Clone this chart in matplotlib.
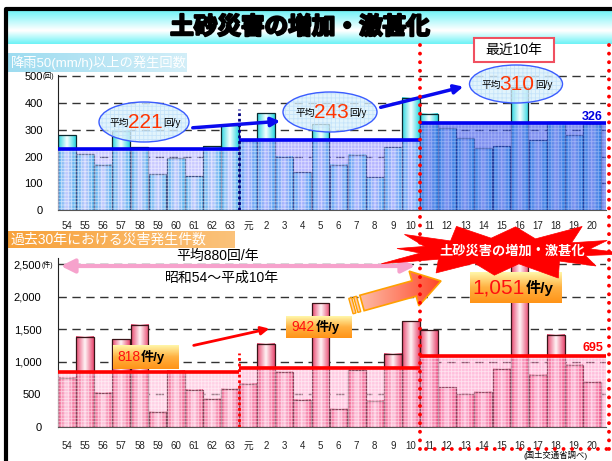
import numpy as np
import matplotlib
matplotlib.use('Agg')
import matplotlib.pyplot as plt
from matplotlib import patches as mpatches
from matplotlib.colors import LinearSegmentedColormap
import matplotlib.patheffects as pe

plt.rcParams['font.family'] = ['Liberation Sans', 'Noto Sans CJK JP']
plt.rcParams['hatch.linewidth'] = 0.6

# --- data ---
years = ['54', '55', '56', '57', '58', '59', '60', '61', '62', '63',
         '元', '2', '3', '4', '5', '6', '7', '8', '9', '10',
         '11', '12', '13', '14', '15', '16', '17', '18', '19', '20']
rain = [280, 208, 170, 297, 235, 134, 194, 126, 239, 318,
        258, 362, 200, 141, 321, 170, 207, 122, 235, 419,
        360, 306, 269, 231, 239, 460, 261, 329, 280, 321]
disasters = [754, 1385, 528, 1349, 1574, 231, 862, 574, 436, 590,
             667, 1277, 846, 420, 1903, 282, 882, 405, 1128, 1626,
             1487, 610, 503, 538, 897, 2540, 805, 1421, 959, 692]
rain_levels = [228, 260, 326]
rain_avg_labels = ['221', '243', '310']
dis_levels = [841, 908, 1092]
dis_avg_labels = ['818', '942', '1,051']
periods = [(-0.5, 9.5), (9.5, 19.5), (19.5, 29.8)]

W, H = 612, 461
fig = plt.figure(figsize=(W / 100, H / 100), dpi=100)


def px_axes(x0, y0, x1, y1, z):
    return fig.add_axes([x0 / W, 1 - y1 / H, (x1 - x0) / W, (y1 - y0) / H], zorder=z)


def grad(ax, box, arr, cols, z, clip=None):
    x0, y0, x1, y1 = box
    cm = LinearSegmentedColormap.from_list('g', cols)
    im = ax.imshow(arr, extent=(x0, x1, y1, y0), aspect='auto', cmap=cm,
                   vmin=0, vmax=1, zorder=z, interpolation='bilinear')
    if clip is not None:
        im.set_clip_path(clip)
    return im


bg = px_axes(0, 0, W, H, 0)
ov = px_axes(0, 0, W, H, 10)
for a in (bg, ov):
    a.patch.set_alpha(0)
    a.axis('off')

# title band and frame
vgrad = np.concatenate([np.linspace(1, 0, 30), np.linspace(0, 1, 20)])[:, None]
grad(bg, (7, 10, 612, 44), vgrad, ['#ffffff', '#6ef2f6'], 1)
bg.plot([6, 6, 612], [470, 9, 9], color='black', lw=3, zorder=2)
bg.text(300, 27, '土砂災害の増加・激甚化', fontsize=17, fontweight='bold',
        ha='center', va='center', family=['Noto Sans CJK JP'],
        path_effects=[pe.withStroke(linewidth=1.6, foreground='black')], zorder=3)

hgrad = np.linspace(0, 1, 50)[None, :]
grad(bg, (8, 53, 187, 72), hgrad, ['#9edcf0', '#d2eef8'], 1)
bg.text(11, 63, '降雨50(mm/h)以上の発生回数', color='white', fontsize=9.5,
        va='center', zorder=3)
grad(bg, (8, 231, 235, 248), hgrad, ['#f7a23c', '#fbc27a'], 1)
bg.text(11, 239.5, '過去30年における災害発生件数', color='white', fontsize=10,
        va='center', zorder=3)

x = np.arange(len(years))
xr = 58 + 30.3 * 18.1
ax1 = px_axes(58, 75, xr, 210, 2)
ax2 = px_axes(58, 258, xr, 427, 2)

hbar = np.abs(np.linspace(-1, 1, 64))[None, :]
cyan = ['#f6ffff', '#2cd6e0']
pink = ['#fff4f6', '#e84870']

for ax, vals, cols, ec, levels, lcol, fcs, hcs, grid in [
        (ax1, rain, cyan, '#0b2a30', rain_levels, '#0000f0',
         [(0.5, 0.5, 1.0, 0.42), (0.42, 0.42, 1.0, 0.5), (0.2, 0.3, 0.9, 0.62)],
         [(1, 1, 1, 0.55), (1, 1, 1, 0.5), (0.8, 0.85, 1, 0.45)],
         [100, 200, 300, 400, 500]),
        (ax2, disasters, pink, '#3a1418', dis_levels, '#ff0000',
         [(1.0, 0.55, 0.75, 0.4), (1.0, 0.5, 0.72, 0.42), (1.0, 0.45, 0.7, 0.45)],
         [(1, 1, 1, 0.55), (1, 1, 1, 0.55), (1, 1, 1, 0.55)],
         [500, 1000, 1500, 2000, 2500])]:
    ax.patch.set_alpha(0)
    for g in grid:
        ax.axhline(g, color='#333333', lw=1, dashes=(6, 4), zorder=1)
    for i, v in enumerate(vals):
        grad(ax, (i - 0.49, v, i + 0.49, 0), hbar, cols, 2)
        ax.add_patch(mpatches.Rectangle((i - 0.49, 0), 0.98, v, fill=False,
                                        ec=ec, lw=0.9, zorder=3))
    for (a, b), lvl, fc, hc in zip(periods, levels, fcs, hcs):
        ax.fill_between([a, b], 0, lvl, facecolor=fc, edgecolor=hc,
                        hatch='+++++', lw=0, zorder=4)
        ax.plot([a, b], [lvl, lvl], color=lcol, lw=2.6, zorder=5,
                solid_capstyle='butt')
    ax.set_xticks(x)
    ax.set_xticklabels(years, fontsize=7, color='#222222')
    for s in ['top', 'right']:
        ax.spines[s].set_visible(False)
    ax.spines['left'].set_color('#222222')
    ax.spines['bottom'].set_color('#555555')
    ax.set_xlim(-0.5, 29.8)

ax1.set_ylim(0, 505)
ax1.set_yticks([0, 100, 200, 300, 400, 500])
ax1.set_yticklabels(['0', '100', '200', '300', '400', '500'], fontsize=8)
ax1.tick_params(axis='both', length=0)
ax1.tick_params(axis='y', pad=11)
ax1.tick_params(axis='x', pad=8)
ax1.plot([9.5, 9.5], [0, 378], color='#000080', lw=2, linestyle=(0, (1, 1)), zorder=6)

ax2.set_ylim(0, 2597)
ax2.set_yticks([0, 500, 1000, 1500, 2000, 2500])
ax2.set_yticklabels(['0', '500', '1,000', '1,500', '2,000', '2,500'], fontsize=8)
ax2.tick_params(axis='both', length=0)
ax2.tick_params(axis='y', pad=12)
ax2.tick_params(axis='x', pad=10)
ax2.plot([9.5, 9.5], [0, 1139], color='red', lw=2, linestyle=(0, (1, 1)), zorder=6)

ov.text(43, 76, '(回)', fontsize=5, va='center')
ov.text(42, 265, '(件)', fontsize=5, va='center')

# ellipses with averages (top)
for (cx, cy, w, h), lab in zip([(144, 122, 90, 40), (330, 112, 94, 40), (516, 84, 93, 38)],
                               rain_avg_labels):
    ov.add_patch(mpatches.Ellipse((cx, cy), w, h, facecolor=(0.86, 0.95, 0.99, 0.78),
                                  edgecolor=(0.75, 0.88, 0.98, 0.8), hatch='++++', lw=0, zorder=3))
    ov.add_patch(mpatches.Ellipse((cx, cy), w, h, fill=False, edgecolor='#3a5cff', lw=1, zorder=4))
    ov.text(cx - 15, cy + 1, '平均', fontsize=7, ha='right', va='center', zorder=5)
    ov.text(cx + 1, cy, lab, fontsize=15, color='#ff3300', ha='center', va='center', zorder=5)
    ov.text(cx + 19, cy + 1, '回/y', fontsize=7, ha='left', va='center', zorder=5)

arrow_blue = dict(arrowstyle='-|>', color='#0a0aee', lw=2.5, mutation_scale=13)
ov.annotate('', xy=(283, 121), xytext=(190, 128), arrowprops=arrow_blue, zorder=5)
ov.annotate('', xy=(466, 86), xytext=(378, 108), arrowprops=arrow_blue, zorder=5)
ov.text(592, 117, '326', color='#0000e0', fontsize=9, fontweight='bold',
        ha='center', va='center', zorder=6)
ov.text(593, 348, '695', color='#ff0000', fontsize=9, fontweight='bold',
        ha='center', va='center', zorder=6)

# red dotted frame for recent 10 years
dots = dict(color='#ff0000', lw=2.8, linestyle=(0, (0.01, 2.2)), dash_capstyle='round', zorder=7)
ov.plot([420, 420], [45, 449], **dots)
ov.plot([426, 609], [449, 449], **dots)
ov.plot([609, 609], [45, 449], **dots)
ov.add_patch(mpatches.Rectangle((474, 38), 80, 24, facecolor='white', edgecolor='#f05060',
                                lw=1.5, zorder=8))
ov.text(514, 50, '最近10年', fontsize=10, ha='center', va='center', zorder=9)

# pink double arrow and period text
ov.annotate('', xy=(58, 266), xytext=(418, 266),
            arrowprops=dict(arrowstyle='<|-|>', color='#f6a2cc', lw=3, mutation_scale=20), zorder=5)
ov.text(218, 256, '平均880回/年', fontsize=10, ha='center', va='center', zorder=6)
ov.text(222, 278, '昭和54～平成10年', fontsize=10, ha='center', va='center', zorder=6)

# orange boxes with averages (bottom)
bgrad = np.linspace(0, 1, 40)[:, None] * np.ones((1, 40))
for (x0, y0, x1, y1, split, fs), lab in zip(
        [(113, 345, 179, 369, 140, 10), (286, 316, 352, 338, 315, 10),
         (470, 272, 562, 303, 525, 15)], dis_avg_labels):
    grad(ov, (x0, y0, x1, y1), bgrad, ['#fff6a8', '#ffb040', '#ff9418'], 5)
    cy = (y0 + y1) / 2
    ov.text(split, cy, lab, fontsize=fs, color='#ff1010', ha='right', va='center', zorder=6)
    ov.text(split + 1, cy, '件/y', fontsize=9.5 if fs < 12 else 11, fontweight='bold',
            ha='left', va='center', zorder=6)

ov.annotate('', xy=(272, 328), xytext=(191, 346),
            arrowprops=dict(arrowstyle='-|>', color='#ff0000', lw=2, mutation_scale=12), zorder=5)

# big block arrow
sx, sy, ex, ey = 362, 303, 441, 281
big = mpatches.FancyArrow(sx, sy, ex - sx, ey - sy, width=16, head_width=36, head_length=28,
                          length_includes_head=True, facecolor='none', edgecolor='#ffa000',
                          lw=1.2, zorder=6)
ov.add_patch(big)
grad(ov, (340, 260, 450, 320), np.linspace(0, 1, 60)[None, :], ['#fdd8c4', '#ff3a1c'], 5, clip=big)
u = np.array([ex - sx, ey - sy]) / np.hypot(ex - sx, ey - sy)
nrm = np.array([-u[1], u[0]])
for k in (5, 10):
    c = np.array([sx, sy]) - u * k
    pts = [c - nrm * 8 - u * 1.5, c + nrm * 8 - u * 1.5, c + nrm * 8 + u * 1.5, c - nrm * 8 + u * 1.5]
    ov.add_patch(mpatches.Polygon(pts, facecolor='#fcc8a8', edgecolor='#ffa000', lw=1, zorder=6))

# starburst
ang = np.linspace(0, 2 * np.pi, 24, endpoint=False) + 0.1
mult = [1.05, 0.95, 1.1, 0.9, 1.0, 1.15, 0.92, 1.05, 1.0, 0.9, 1.12, 0.95]
rx = np.array([(118 * mult[i // 2]) if i % 2 == 0 else 86 for i in range(24)])
ry = np.array([(27 * mult[i // 2]) if i % 2 == 0 else 13 for i in range(24)])
star = np.column_stack([505 + rx * np.cos(ang), 251 + ry * np.sin(ang)])
ov.add_patch(mpatches.Polygon(star, facecolor='#ff0000', edgecolor='#ff0000', lw=0.5, zorder=7))
ov.text(512, 251, '土砂災害の増加・激甚化', color='white', fontsize=9.5, fontweight='bold',
        ha='center', va='center', family=['Noto Sans CJK JP'], zorder=8)

ov.text(556, 451, '(国土交通省調べ)', fontsize=6, ha='center', va='top', zorder=6)

for a in (bg, ov):
    a.set_xlim(0, W)
    a.set_ylim(H, 0)
ax1.set_xlim(-0.5, 29.8)
ax1.set_ylim(0, 505)
ax2.set_xlim(-0.5, 29.8)
ax2.set_ylim(0, 2597)

fig.savefig('out.png', dpi=100)
